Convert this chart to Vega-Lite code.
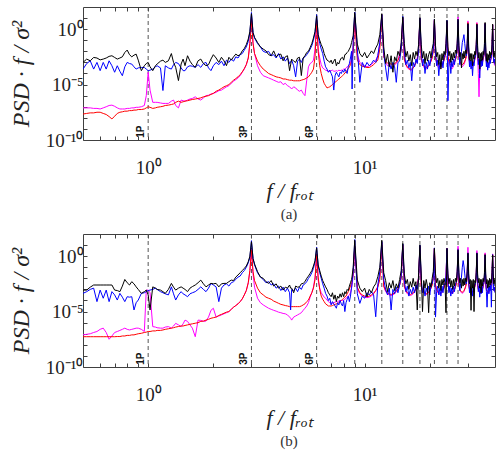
{
"$schema": "https://vega.github.io/schema/vega-lite/v6.json",
"background": "white",
"padding": {"left": 8, "top": 6, "right": 5, "bottom": 5},
"spacing": 10,
"config": {
  "view": {"stroke": "#404040", "strokeWidth": 1},
  "axis": {"domain": false, "grid": false, "tickColor": "#404040", "tickWidth": 1, "labelFont": "Liberation Serif", "labelFontSize": 19, "labelColor": "#222", "titleFont": "Liberation Serif", "titleFontStyle": "italic", "titleFontWeight": "normal", "titleColor": "#222", "labelFlush": false, "labelOverlap": false},
  "title": {"font": "Liberation Serif", "fontSize": 15, "fontWeight": "normal", "color": "#333"}
},
"datasets": {
"h": [{"f":1},{"f":3},{"f":6},{"f":9},{"f":12},{"f":15},{"f":18},{"f":21},{"f":24},{"f":27}],
"lab": [{"f":1,"t":"1P"},{"f":3,"t":"3P"},{"f":6,"t":"6P"}],
"a": [
{"f":0.5,"k":1e-3,"b":2.5e-4,"m":7.9e-8,"r":2.2e-8},
{"f":0.52,"k":2e-3,"b":7.9e-4,"m":7.9e-8,"r":2.5e-8},
{"f":0.54,"k":1.4e-3,"b":1.4e-3,"m":7.9e-8,"r":2.8e-8},
{"f":0.56,"k":2.8e-3,"b":2.5e-4,"m":7.1e-8,"r":2.8e-8},
{"f":0.58,"k":2.5e-3,"b":1e-3,"m":7.1e-8,"r":3.2e-8},
{"f":0.6,"k":1.7e-3,"b":1.8e-4,"m":6.3e-8,"r":3.2e-8},
{"f":0.62,"k":2e-3,"b":1e-3,"m":7.9e-8,"r":2.5e-8},
{"f":0.64,"k":2.5e-3,"b":2.5e-4,"m":1e-7,"r":2e-8},
{"f":0.66,"k":3.5e-3,"b":1.4e-3,"m":1.3e-7,"r":1.3e-8},
{"f":0.68,"k":4e-3,"b":5e-4,"m":1.4e-7,"r":7.9e-9},
{"f":0.7,"k":2.8e-3,"b":1.3e-4,"m":1.1e-7,"r":1.4e-8},
{"f":0.72,"k":2e-3,"b":5e-4,"m":7.9e-8,"r":2.5e-8},
{"f":0.74,"k":2.5e-3,"b":1.6e-4,"m":6.3e-8,"r":3.2e-8},
{"f":0.76,"k":3.2e-3,"b":6.3e-5,"m":6.3e-8,"r":3.5e-8},
{"f":0.78,"k":7.9e-3,"b":4e-4,"m":6.3e-8,"r":4e-8},
{"f":0.8,"k":0.013,"b":1e-3,"m":7.1e-8,"r":4e-8},
{"f":0.82,"k":5e-3,"b":7.9e-4,"m":7.1e-8,"r":4.5e-8},
{"f":0.84,"k":3.2e-3,"b":7.1e-4,"m":7.9e-8,"r":4.5e-8},
{"f":0.86,"k":4.5e-3,"b":4e-4,"m":7.9e-8,"r":5e-8},
{"f":0.88,"k":5.6e-3,"b":2.5e-4,"m":8.9e-8,"r":5e-8},
{"f":0.9,"k":1.6e-3,"b":3.2e-4,"m":8.9e-8,"r":5.6e-8},
{"f":0.93,"k":1.8e-4,"b":3.5e-4,"m":1e-7,"r":5.6e-8},
{"f":0.96,"k":5e-4,"b":3.5e-4,"m":1.3e-7,"r":6.3e-8},
{"f":0.98,"k":7.9e-4,"b":2.5e-4,"m":1e-6,"r":7.9e-8},
{"f":1.0,"k":1e-3,"b":1.8e-4,"m":1.3e-4,"r":1e-7},
{"f":1.02,"k":4e-4,"b":2e-4,"m":3.2e-6,"r":8.9e-8},
{"f":1.05,"k":1.8e-4,"b":2.5e-4,"m":2.5e-7,"r":7.1e-8},
{"f":1.08,"k":5e-4,"b":4e-4,"m":2.5e-7,"r":7.9e-8},
{"f":1.1,"k":7.2e-4,"b":5e-4,"m":2.5e-7,"r":8.9e-8},
{"f":1.14,"k":1.3e-3,"b":3.2e-4,"m":2.2e-7,"r":1e-7},
{"f":1.17,"k":1.6e-3,"b":2.9e-6,"m":2e-7,"r":1.1e-7},
{"f":1.2,"k":1e-3,"b":5e-4,"m":2e-7,"r":1.3e-7},
{"f":1.24,"k":1.4e-3,"b":3.2e-4,"m":2e-7,"r":1.4e-7},
{"f":1.28,"k":6.3e-3,"b":2.5e-4,"m":3.2e-7,"r":1.6e-7},
{"f":1.31,"k":1e-3,"b":6.3e-4,"m":4e-7,"r":1.8e-7},
{"f":1.34,"k":3.6e-4,"b":1e-3,"m":1.3e-7,"r":2.5e-7},
{"f":1.38,"k":2.3e-5,"b":7.9e-4,"m":7.9e-8,"r":3.2e-7},
{"f":1.42,"k":7.2e-4,"b":3.2e-4,"m":4e-7,"r":2.5e-7},
{"f":1.45,"k":2e-3,"b":1.8e-4,"m":3.5e-7,"r":2.8e-7},
{"f":1.48,"k":5.1e-4,"b":1.8e-4,"m":3.2e-7,"r":3.2e-7},
{"f":1.52,"k":4e-3,"b":4e-4,"m":4e-7,"r":3.5e-7},
{"f":1.56,"k":1.3e-3,"b":5e-4,"m":5e-7,"r":4e-7},
{"f":1.6,"k":6.3e-4,"b":4.5e-4,"m":5.6e-7,"r":4.5e-7},
{"f":1.65,"k":3.6e-4,"b":3.6e-4,"m":7.9e-7,"r":5e-7},
{"f":1.7,"k":1.4e-3,"b":6.3e-4,"m":5e-7,"r":5.6e-7},
{"f":1.75,"k":2e-3,"b":3.6e-4,"m":4e-7,"r":6.3e-7},
{"f":1.8,"k":7.9e-4,"b":7.9e-4,"m":6.3e-7,"r":7.9e-7},
{"f":1.85,"k":5.1e-4,"b":1e-3,"m":1e-6,"r":8.9e-7},
{"f":1.9,"k":6.3e-4,"b":3.2e-4,"m":1.1e-6,"r":1e-6},
{"f":1.95,"k":2e-3,"b":1.8e-4,"m":1.4e-6,"r":1.3e-6},
{"f":2.0,"k":5e-3,"b":5e-4,"m":1.6e-6,"r":1.6e-6},
{"f":2.06,"k":2.5e-3,"b":1e-3,"m":2e-6,"r":2.5e-6},
{"f":2.12,"k":1e-3,"b":6.3e-4,"m":2.8e-6,"r":3.2e-6},
{"f":2.18,"k":2.9e-3,"b":1.3e-3,"m":3.2e-6,"r":4.5e-6},
{"f":2.24,"k":1.4e-3,"b":5e-4,"m":4.5e-6,"r":6.3e-6},
{"f":2.3,"k":5.1e-4,"b":1.6e-3,"m":6.3e-6,"r":7.9e-6},
{"f":2.36,"k":2.9e-3,"b":1e-3,"m":7.9e-6,"r":1e-5},
{"f":2.42,"k":1.6e-3,"b":2e-3,"m":1.3e-5,"r":1.6e-5},
{"f":2.48,"k":3.2e-3,"b":1.3e-3,"m":2e-5,"r":2.5e-5},
{"f":2.54,"k":5.6e-3,"b":3.2e-3,"m":2.8e-5,"r":3.5e-5},
{"f":2.6,"k":4e-3,"b":2.5e-3,"m":4e-5,"r":5e-5},
{"f":2.66,"k":5e-3,"b":5e-3,"m":6.3e-5,"r":7.9e-5},
{"f":2.72,"k":0.011,"b":6.3e-3,"m":1.3e-4,"r":1.4e-4},
{"f":2.78,"k":0.018,"b":0.013,"m":2.5e-4,"r":2.8e-4},
{"f":2.84,"k":0.04,"b":0.025,"m":6.3e-4,"r":6.3e-4},
{"f":2.9,"k":0.13,"b":0.079,"m":2.5e-3,"r":2.5e-3},
{"f":2.95,"k":0.63,"b":0.5,"m":0.05,"r":0.05},
{"f":3.0,"k":25,"b":32,"m":12.6,"r":7.9},
{"f":3.05,"k":0.5,"b":0.5,"m":0.063,"r":0.05},
{"f":3.1,"k":0.18,"b":0.16,"m":6.3e-3,"r":6.3e-3},
{"f":3.2,"k":0.063,"b":0.05,"m":5e-4,"r":1.3e-3},
{"f":3.3,"k":0.025,"b":0.025,"m":1.3e-4,"r":5e-4},
{"f":3.4,"k":0.016,"b":0.01,"m":6.3e-5,"r":2.5e-4},
{"f":3.5,"k":0.011,"b":7.9e-3,"m":5e-5,"r":1.6e-4},
{"f":3.6,"k":5e-3,"b":0.01,"m":4e-5,"r":1e-4},
{"f":3.7,"k":4e-3,"b":4e-3,"m":3.2e-5,"r":7.9e-5},
{"f":3.8,"k":0.011,"b":5e-3,"m":2.5e-5,"r":6.3e-5},
{"f":3.9,"k":3.2e-3,"b":2.5e-3,"m":2e-5,"r":5e-5},
{"f":4.0,"k":5e-3,"b":6.3e-3,"m":1.6e-5,"r":4.5e-5},
{"f":4.1,"k":5.6e-3,"b":2e-3,"m":1.8e-5,"r":4e-5},
{"f":4.2,"k":1.4e-3,"b":3.2e-3,"m":1e-5,"r":3.2e-5},
{"f":4.3,"k":3.2e-3,"b":1.3e-3,"m":1.3e-5,"r":3.2e-5},
{"f":4.4,"k":4e-3,"b":2.5e-3,"m":7.9e-6,"r":2.8e-5},
{"f":4.5,"k":1.8e-4,"b":7.9e-4,"m":6.3e-6,"r":2.5e-5},
{"f":4.6,"k":2e-3,"b":1.6e-3,"m":4e-6,"r":2.5e-5},
{"f":4.7,"k":1.3e-3,"b":5e-4,"m":6.3e-6,"r":2.2e-5},
{"f":4.8,"k":1e-3,"b":5e-5,"m":5e-6,"r":2.2e-5},
{"f":4.9,"k":2.5e-3,"b":1.3e-3,"m":3.2e-6,"r":2.2e-5},
{"f":5.0,"k":2.9e-3,"b":2e-3,"m":2.5e-6,"r":2.2e-5},
{"f":5.1,"k":6.5e-5,"b":1e-3,"m":3.2e-6,"r":2.5e-5},
{"f":5.2,"k":2.5e-3,"b":2.5e-3,"m":1.6e-6,"r":2.8e-5},
{"f":5.3,"k":4e-3,"b":3.2e-3,"m":1e-6,"r":3.2e-5},
{"f":5.4,"k":7.9e-3,"b":5e-3,"m":2.5e-5,"r":4e-5},
{"f":5.5,"k":0.01,"b":7.9e-3,"m":4e-4,"r":5e-5},
{"f":5.6,"k":0.022,"b":0.016,"m":7.9e-4,"r":7.9e-5},
{"f":5.7,"k":0.05,"b":0.032,"m":1e-3,"r":1.3e-4},
{"f":5.8,"k":0.16,"b":0.1,"m":1.6e-3,"r":2.5e-4},
{"f":5.9,"k":0.63,"b":0.5,"m":0.016,"r":3.2e-3},
{"f":6.0,"k":16,"b":20,"m":6.3,"r":6.3},
{"f":6.1,"k":0.32,"b":0.25,"m":0.016,"r":0.01},
{"f":6.2,"k":0.1,"b":0.05,"m":2.5e-3,"r":5e-4},
{"f":6.3,"k":0.04,"b":0.016,"m":6.3e-4,"r":1e-4},
{"f":6.4,"k":0.02,"b":6.3e-3,"m":3.2e-4,"r":3.2e-5},
{"f":6.5,"k":6.3e-3,"b":1.3e-3,"m":2.5e-4,"r":1.3e-5},
{"f":6.6,"k":2.9e-3,"b":4e-4,"m":2e-4,"r":7.9e-6},
{"f":6.7,"k":1.6e-3,"b":2.5e-4,"m":1.8e-4,"r":5e-6},
{"f":6.8,"k":1.4e-3,"b":1.3e-4,"m":1.6e-4,"r":5.6e-6},
{"f":6.9,"k":1e-3,"b":2e-4,"m":1.6e-4,"r":6.3e-6},
{"f":7.0,"k":1.6e-3,"b":1e-4,"m":1.8e-4,"r":7.9e-6},
{"f":7.1,"k":7.2e-4,"b":5e-5,"m":2e-4,"r":1e-5},
{"f":7.2,"k":1.3e-3,"b":3.2e-6,"m":1.6e-4,"r":1.3e-5},
{"f":7.3,"k":2e-3,"b":6.3e-5,"m":1.6e-4,"r":1.6e-5},
{"f":7.4,"k":5e-4,"b":1.3e-4,"m":1.8e-4,"r":2e-5},
{"f":7.5,"k":1e-3,"b":7.9e-5,"m":1.6e-4,"r":2.5e-5},
{"f":7.6,"k":7.2e-4,"b":5e-5,"m":2e-4,"r":3.2e-5},
{"f":7.7,"k":1.6e-3,"b":1.3e-4,"m":1.8e-4,"r":4e-5},
{"f":7.8,"k":2.5e-3,"b":1e-4,"m":2e-4,"r":5e-5},
{"f":7.9,"k":2.9e-3,"b":2e-4,"m":2e-4,"r":6.3e-5},
{"f":8.0,"k":1.6e-3,"b":1.3e-4,"m":2.5e-4,"r":7.9e-5},
{"f":8.1,"k":5e-3,"b":2.5e-4,"m":2.5e-4,"r":1.1e-4},
{"f":8.2,"k":5.6e-3,"b":1.6e-4,"m":3.2e-4,"r":1.4e-4},
{"f":8.3,"k":7.9e-3,"b":1e-4,"m":4e-4,"r":2e-4},
{"f":8.4,"k":0.01,"b":4e-4,"m":5e-4,"r":2.8e-4},
{"f":8.5,"k":0.016,"b":7.9e-4,"m":6.3e-4,"r":4e-4},
{"f":8.6,"k":0.025,"b":2.5e-3,"m":1e-3,"r":6.3e-4},
{"f":8.7,"k":0.063,"b":0.01,"m":2e-3,"r":1.3e-3},
{"f":8.75,"k":0.1,"b":4e-6,"m":3.2e-3,"r":2e-3},
{"f":8.85,"k":0.25,"b":0.1,"m":0.016,"r":0.01},
{"f":9.0,"k":32,"b":35,"m":12.6,"r":10},
{"f":9.25,"k":0.045,"b":0.016,"m":5e-3,"r":1.6e-3},
{"f":9.5,"k":6.3e-3,"b":1.6e-5,"m":1e-3,"r":6.3e-4},
{"f":9.75,"k":3.2e-3,"b":1e-3,"m":6.3e-4,"r":4.5e-4},
{"f":10.0,"k":7.9e-3,"b":3.5e-4,"m":5e-4,"r":4e-4},
{"f":10.25,"k":2.5e-3,"b":1e-3,"m":4e-4,"r":3.5e-4},
{"f":10.5,"k":5e-3,"b":5e-4,"m":5e-4,"r":3.5e-4},
{"f":10.75,"k":0.011,"b":7.9e-4,"m":6.3e-4,"r":4.5e-4},
{"f":11.0,"k":6.3e-3,"b":1.6e-3,"m":1e-3,"r":6.3e-4},
{"f":11.25,"k":0.02,"b":1e-3,"m":1.6e-3,"r":1e-3},
{"f":11.5,"k":0.045,"b":4e-3,"m":4e-3,"r":1.6e-3},
{"f":11.75,"k":0.32,"b":0.063,"m":0.05,"r":0.016},
{"f":12.0,"k":25,"b":20,"m":20,"r":10},
{"f":12.25,"k":0.025,"b":6.3e-3,"m":4e-3,"r":3.2e-3},
{"f":12.5,"k":7.9e-4,"b":3.2e-4,"m":1e-3,"r":1.3e-3},
{"f":12.75,"k":5.6e-3,"b":2.2e-5,"m":5e-4,"r":8.9e-4},
{"f":13.0,"k":4e-4,"b":1e-3,"m":6.3e-4,"r":7.9e-4},
{"f":13.25,"k":4e-3,"b":2.5e-4,"m":3.2e-4,"r":7.1e-4},
{"f":13.5,"k":1.3e-4,"b":1e-3,"m":5e-4,"r":7.1e-4},
{"f":13.75,"k":3.2e-3,"b":4e-4,"m":6.3e-4,"r":7.9e-4},
{"f":14.0,"k":1.3e-3,"b":1.6e-5,"m":7.9e-4,"r":1e-3},
{"f":14.25,"k":0.01,"b":1e-3,"m":1.6e-3,"r":1.6e-3},
{"f":14.5,"k":4e-3,"b":1.3e-3,"m":6.3e-3,"r":3.2e-3},
{"f":14.75,"k":0.063,"b":0.016,"m":0.025,"r":0.013},
{"f":15.0,"k":12.6,"b":14,"m":10,"r":10},
{"f":15.25,"k":0.05,"b":0.01,"m":2.5e-3,"r":2e-3},
{"f":15.5,"k":3.2e-3,"b":6.3e-4,"m":6.3e-4,"r":6.3e-4},
{"f":15.75,"k":0.01,"b":1.6e-3,"m":3.2e-4,"r":4e-4},
{"f":16.0,"k":1.3e-3,"b":3.2e-4,"m":2.5e-4,"r":2.8e-4},
{"f":16.25,"k":5e-3,"b":1e-3,"m":2e-4,"r":2.5e-4},
{"f":16.5,"k":5e-4,"b":2.2e-5,"m":2e-4,"r":2.5e-4},
{"f":16.75,"k":7.9e-3,"b":1e-3,"m":3.2e-4,"r":3.2e-4},
{"f":17.0,"k":2e-3,"b":4e-4,"m":5e-4,"r":5e-4},
{"f":17.25,"k":0.01,"b":2e-3,"m":1e-3,"r":1e-3},
{"f":17.5,"k":4e-3,"b":7.9e-4,"m":2.5e-3,"r":2e-3},
{"f":17.75,"k":0.04,"b":0.013,"m":0.02,"r":0.01},
{"f":18.0,"k":11,"b":10,"m":10,"r":7.9},
{"f":18.25,"k":0.04,"b":0.016,"m":2.5e-3,"r":2.5e-3},
{"f":18.5,"k":2.5e-3,"b":5e-4,"m":7.9e-4,"r":7.9e-4},
{"f":18.75,"k":0.01,"b":2e-3,"m":4e-4,"r":5e-4},
{"f":19.0,"k":7.9e-4,"b":1e-4,"m":2.5e-4,"r":4e-4},
{"f":19.25,"k":6.3e-3,"b":1e-3,"m":2.5e-4,"r":3.5e-4},
{"f":19.5,"k":1.3e-3,"b":2.5e-4,"m":3.2e-4,"r":4e-4},
{"f":19.75,"k":5e-3,"b":1.6e-3,"m":5e-4,"r":5e-4},
{"f":20.0,"k":0.01,"b":5e-4,"m":7.9e-4,"r":7.9e-4},
{"f":20.25,"k":2.5e-3,"b":2.5e-3,"m":1.3e-3,"r":1.3e-3},
{"f":20.5,"k":0.016,"b":4e-3,"m":3.2e-3,"r":2.5e-3},
{"f":20.75,"k":0.05,"b":0.016,"m":0.016,"r":0.01},
{"f":21.0,"k":7.9,"b":7.9,"m":6.3,"r":6.3},
{"f":21.25,"k":0.032,"b":7.9e-3,"m":3.2e-3,"r":2.5e-3},
{"f":21.5,"k":3.2e-3,"b":5e-4,"m":1e-3,"r":1e-3},
{"f":21.75,"k":7.9e-3,"b":1.6e-3,"m":5e-4,"r":6.3e-4},
{"f":22.0,"k":6.3e-4,"b":6.3e-5,"m":3.2e-4,"r":5e-4},
{"f":22.25,"k":5e-3,"b":1e-3,"m":2.5e-4,"r":4.5e-4},
{"f":22.5,"k":2.5e-4,"b":4e-4,"m":3.2e-4,"r":5e-4},
{"f":22.75,"k":6.3e-3,"b":1.3e-3,"m":5e-4,"r":6.3e-4},
{"f":23.0,"k":1.6e-3,"b":3.2e-4,"m":7.9e-4,"r":1e-3},
{"f":23.25,"k":0.01,"b":2.5e-3,"m":1.6e-3,"r":1.6e-3},
{"f":23.5,"k":5e-3,"b":5e-3,"m":4e-3,"r":3.2e-3},
{"f":23.75,"k":0.05,"b":0.02,"m":0.02,"r":0.01},
{"f":24.0,"k":6.3,"b":6.3,"m":5,"r":5},
{"f":24.25,"k":0.025,"b":3.5e-7,"m":4e-3,"r":3.2e-3},
{"f":24.5,"k":4e-3,"b":1e-3,"m":1e-3,"r":1.3e-3},
{"f":24.75,"k":0.01,"b":2e-3,"m":5e-4,"r":7.9e-4},
{"f":25.0,"k":1e-3,"b":1e-4,"m":3.2e-4,"r":6.3e-4},
{"f":25.25,"k":6.3e-3,"b":1.3e-3,"m":2.5e-4,"r":5.6e-4},
{"f":25.5,"k":1.6e-3,"b":4e-4,"m":3.2e-4,"r":6.3e-4},
{"f":25.75,"k":7.9e-3,"b":2e-3,"m":5e-4,"r":7.9e-4},
{"f":26.0,"k":2.5e-3,"b":6.3e-4,"m":1e-3,"r":1.1e-3},
{"f":26.25,"k":0.013,"b":3.2e-3,"m":1.6e-3,"r":1.8e-3},
{"f":26.5,"k":6.3e-3,"b":4e-3,"m":4e-3,"r":3.2e-3},
{"f":26.75,"k":0.05,"b":0.016,"m":0.02,"r":0.01},
{"f":27.0,"k":7.9,"b":7.1,"m":12.6,"r":5},
{"f":27.25,"k":0.032,"b":0.01,"m":4e-3,"r":3.2e-3},
{"f":27.5,"k":3.2e-3,"b":6.3e-4,"m":1e-3,"r":1.3e-3},
{"f":27.75,"k":7.9e-3,"b":2.5e-3,"m":6.3e-4,"r":8.9e-4},
{"f":28.0,"k":3.2e-4,"b":0.01,"m":5e-4,"r":7.1e-4},
{"f":28.25,"k":6.3e-3,"b":0.063,"m":4e-4,"r":6.3e-4},
{"f":28.5,"k":2e-3,"b":0.13,"m":5e-4,"r":7.1e-4},
{"f":28.75,"k":0.01,"b":0.32,"m":6.3e-4,"r":8.9e-4},
{"f":29.0,"k":2.5e-3,"b":0.05,"m":1e-3,"r":1.3e-3},
{"f":29.25,"k":0.013,"b":0.01,"m":2e-3,"r":2e-3},
{"f":29.5,"k":6.3e-3,"b":4e-3,"m":4e-3,"r":3.5e-3},
{"f":29.75,"k":0.05,"b":0.016,"m":0.016,"r":0.01},
{"f":30.0,"k":3.2,"b":2.8,"m":5.6,"r":4},
{"f":30.25,"k":0.025,"b":7.9e-3,"m":3.2e-3,"r":3.2e-3},
{"f":30.5,"k":1.6e-3,"b":4e-4,"m":1e-3,"r":1.3e-3},
{"f":30.75,"k":6.3e-3,"b":1.6e-3,"m":5e-4,"r":8.9e-4},
{"f":31.0,"k":1.3e-3,"b":2.5e-4,"m":4e-4,"r":7.1e-4},
{"f":31.25,"k":6.3e-3,"b":1.3e-3,"m":3.2e-4,"r":6.3e-4},
{"f":31.5,"k":5e-4,"b":6.3e-5,"m":4e-4,"r":7.1e-4},
{"f":31.75,"k":5e-3,"b":1e-3,"m":6.3e-4,"r":8.9e-4},
{"f":32.0,"k":2e-3,"b":5e-4,"m":1e-3,"r":1.3e-3},
{"f":32.25,"k":0.01,"b":2.5e-3,"m":1.6e-3,"r":2e-3},
{"f":32.5,"k":5e-3,"b":3.2e-3,"m":4e-3,"r":3.5e-3},
{"f":32.75,"k":0.04,"b":0.013,"m":0.016,"r":0.01},
{"f":33.0,"k":2.8,"b":2.5,"m":4,"r":3.2},
{"f":33.25,"k":0.032,"b":0.01,"m":4e-3,"r":3.2e-3},
{"f":33.5,"k":2.5e-3,"b":6.3e-4,"m":1e-4,"r":1.3e-3},
{"f":33.75,"k":7.9e-3,"b":2e-3,"m":7.9e-7,"r":8.9e-4},
{"f":34.0,"k":2.5e-4,"b":4e-5,"m":1.6e-4,"r":7.9e-4},
{"f":34.25,"k":6.3e-3,"b":1.6e-3,"m":4e-4,"r":7.1e-4},
{"f":34.5,"k":1.3e-3,"b":4e-4,"m":5e-4,"r":7.9e-4},
{"f":34.75,"k":7.9e-3,"b":2e-3,"m":6.3e-4,"r":1e-3},
{"f":35.0,"k":1.6e-3,"b":5e-4,"m":1e-3,"r":1.3e-3},
{"f":35.25,"k":0.01,"b":3.2e-3,"m":1.6e-3,"r":2e-3},
{"f":35.5,"k":5e-3,"b":4e-3,"m":4e-3,"r":3.5e-3},
{"f":35.75,"k":0.05,"b":0.016,"m":0.016,"r":0.01},
{"f":36.0,"k":4,"b":3.2,"m":3.2,"r":3.2},
{"f":36.25,"k":0.025,"b":7.9e-3,"m":3.2e-3,"r":3.2e-3},
{"f":36.5,"k":1.3e-3,"b":4e-4,"m":1e-3,"r":1.3e-3},
{"f":36.75,"k":6.3e-3,"b":1.6e-3,"m":6.3e-4,"r":8.9e-4},
{"f":37.0,"k":1e-3,"b":2e-4,"m":5e-4,"r":7.9e-4},
{"f":37.25,"k":5e-3,"b":1e-3,"m":4e-4,"r":7.1e-4},
{"f":37.5,"k":1.6e-3,"b":3.2e-4,"m":5e-4,"r":7.9e-4},
{"f":37.75,"k":0.01,"b":2.5e-3,"m":7.9e-4,"r":1e-3},
{"f":38.0,"k":2.5e-3,"b":7.9e-4,"m":1e-3,"r":1.3e-3},
{"f":38.25,"k":7.9e-3,"b":2e-3,"m":1.6e-3,"r":2e-3},
{"f":38.5,"k":5e-3,"b":3.2e-3,"m":4e-3,"r":3.5e-3},
{"f":38.75,"k":0.04,"b":0.013,"m":0.016,"r":0.01},
{"f":39.0,"k":2.8,"b":2.5,"m":2.5,"r":2.5},
{"f":39.25,"k":0.032,"b":0.01,"m":5e-3,"r":4e-3},
{"f":39.5,"k":3.2e-3,"b":1e-3,"m":1.3e-3,"r":1.3e-3},
{"f":39.75,"k":7.9e-3,"b":2e-3,"m":6.3e-4,"r":8.9e-4},
{"f":40.0,"k":2.5e-3,"b":6.3e-4,"m":5e-4,"r":7.9e-4}
],
"b": [
{"f":0.5,"k":8.7e-4,"b":4.4e-4,"m":7.9e-8,"r":5.4e-8},
{"f":0.52,"k":8.7e-4,"b":6.3e-4,"m":8.9e-8,"r":5.4e-8},
{"f":0.54,"k":1.6e-3,"b":1e-3,"m":1e-7,"r":5.4e-8},
{"f":0.56,"k":2.5e-3,"b":1.3e-3,"m":1.3e-7,"r":5.4e-8},
{"f":0.58,"k":2.5e-3,"b":7.9e-5,"m":1.6e-7,"r":5.4e-8},
{"f":0.6,"k":2.5e-3,"b":8.7e-4,"m":2.5e-7,"r":5.4e-8},
{"f":0.62,"k":2.5e-3,"b":1.6e-4,"m":3.2e-7,"r":5.4e-8},
{"f":0.64,"k":2.5e-3,"b":8.7e-4,"m":1.3e-7,"r":5.4e-8},
{"f":0.66,"k":2.5e-3,"b":7.9e-5,"m":3.2e-8,"r":5.4e-8},
{"f":0.68,"k":2.5e-3,"b":6.3e-4,"m":6.3e-8,"r":5.4e-8},
{"f":0.7,"k":8.7e-4,"b":3.2e-4,"m":1.3e-7,"r":5.4e-8},
{"f":0.72,"k":7.9e-4,"b":1.1e-4,"m":1.6e-7,"r":5.6e-8},
{"f":0.74,"k":6.3e-4,"b":4.4e-4,"m":2e-7,"r":5.6e-8},
{"f":0.76,"k":2e-3,"b":2e-4,"m":2.5e-7,"r":6.3e-8},
{"f":0.78,"k":7.9e-3,"b":7.9e-5,"m":3.2e-7,"r":6.3e-8},
{"f":0.8,"k":4e-3,"b":2.2e-4,"m":2.5e-7,"r":7.1e-8},
{"f":0.82,"k":2.5e-3,"b":2e-4,"m":2.2e-7,"r":7.1e-8},
{"f":0.84,"k":5e-3,"b":2.2e-4,"m":2.5e-7,"r":7.9e-8},
{"f":0.86,"k":3.2e-3,"b":1.4e-5,"m":2.8e-7,"r":7.9e-8},
{"f":0.88,"k":1.7e-3,"b":6.3e-5,"m":3.2e-7,"r":8.9e-8},
{"f":0.9,"k":1e-3,"b":1.1e-4,"m":3.2e-7,"r":1e-7},
{"f":0.93,"k":4.4e-4,"b":4.4e-4,"m":2.5e-7,"r":1.1e-7},
{"f":0.96,"k":6.3e-4,"b":5e-4,"m":1.6e-7,"r":1.3e-7},
{"f":0.98,"k":8.7e-4,"b":6.3e-4,"m":8.7e-4,"r":1.4e-7},
{"f":1.0,"k":3.2e-4,"b":7.9e-4,"m":8.7e-4,"r":1.6e-7},
{"f":1.02,"k":1.4e-5,"b":8.7e-4,"m":5e-4,"r":1.6e-7},
{"f":1.05,"k":1.7e-3,"b":1e-3,"m":4.4e-7,"r":1.8e-7},
{"f":1.08,"k":1.3e-3,"b":1.3e-3,"m":4e-7,"r":1.8e-7},
{"f":1.1,"k":1e-3,"b":1e-3,"m":3.5e-7,"r":2e-7},
{"f":1.14,"k":8.7e-4,"b":6.3e-4,"m":3.2e-7,"r":2e-7},
{"f":1.17,"k":6.3e-4,"b":5e-4,"m":3.2e-7,"r":2.2e-7},
{"f":1.2,"k":4.4e-4,"b":4e-4,"m":4e-7,"r":2.5e-7},
{"f":1.24,"k":1e-3,"b":3.2e-4,"m":4.4e-7,"r":2.8e-7},
{"f":1.28,"k":3.5e-3,"b":1.7e-3,"m":3.2e-7,"r":3.2e-7},
{"f":1.31,"k":1.6e-3,"b":4e-4,"m":5e-7,"r":3.5e-7},
{"f":1.34,"k":8.7e-4,"b":1.1e-4,"m":8.7e-7,"r":4e-7},
{"f":1.38,"k":1.3e-3,"b":3.2e-4,"m":6.3e-7,"r":4.5e-7},
{"f":1.42,"k":1.7e-3,"b":6.3e-4,"m":4.4e-7,"r":5e-7},
{"f":1.45,"k":1.3e-3,"b":4e-4,"m":7.9e-7,"r":5e-7},
{"f":1.48,"k":1e-3,"b":3.2e-4,"m":1.7e-6,"r":5.6e-7},
{"f":1.52,"k":6.3e-4,"b":2.2e-4,"m":1.3e-6,"r":6.3e-7},
{"f":1.56,"k":1.3e-3,"b":4e-4,"m":6.3e-7,"r":7.1e-7},
{"f":1.6,"k":1.8e-3,"b":5e-4,"m":3.2e-7,"r":7.9e-7},
{"f":1.65,"k":2.5e-3,"b":6.3e-4,"m":5.4e-8,"r":8.9e-7},
{"f":1.7,"k":4e-3,"b":1e-3,"m":1.7e-6,"r":1e-6},
{"f":1.75,"k":6.9e-3,"b":1.7e-3,"m":1.6e-6,"r":1.3e-6},
{"f":1.8,"k":3.2e-3,"b":1e-3,"m":1.3e-6,"r":1.4e-6},
{"f":1.85,"k":1.7e-3,"b":6.3e-4,"m":1.4e-6,"r":1.7e-6},
{"f":1.9,"k":2.5e-3,"b":1.3e-3,"m":3.2e-6,"r":2e-6},
{"f":1.95,"k":3.5e-3,"b":3.5e-3,"m":1.3e-5,"r":2.5e-6},
{"f":2.0,"k":3.2e-3,"b":2.5e-3,"m":2e-5,"r":2.8e-6},
{"f":2.06,"k":3.5e-3,"b":1.7e-3,"m":3.2e-6,"r":3.2e-6},
{"f":2.12,"k":1.7e-3,"b":7.9e-5,"m":4e-6,"r":4.5e-6},
{"f":2.18,"k":3.2e-3,"b":1.3e-3,"m":5e-6,"r":5.6e-6},
{"f":2.24,"k":3.5e-3,"b":2.5e-3,"m":6.3e-6,"r":7.1e-6},
{"f":2.3,"k":3.5e-3,"b":3.2e-3,"m":7.9e-6,"r":8.9e-6},
{"f":2.36,"k":5e-3,"b":2e-3,"m":1e-5,"r":1e-5},
{"f":2.42,"k":6.9e-3,"b":4e-3,"m":1.6e-5,"r":1.6e-5},
{"f":2.48,"k":6.3e-3,"b":5e-3,"m":2.5e-5,"r":2.5e-5},
{"f":2.54,"k":0.013,"b":7.9e-3,"m":3.5e-5,"r":3.5e-5},
{"f":2.6,"k":0.02,"b":0.013,"m":5e-5,"r":5e-5},
{"f":2.66,"k":0.032,"b":0.016,"m":7.9e-5,"r":7.9e-5},
{"f":2.72,"k":0.05,"b":0.032,"m":1.4e-4,"r":1.4e-4},
{"f":2.78,"k":0.079,"b":0.05,"m":3.2e-4,"r":3.2e-4},
{"f":2.84,"k":0.13,"b":0.1,"m":7.9e-4,"r":7.9e-4},
{"f":2.9,"k":0.32,"b":0.25,"m":4e-3,"r":4e-3},
{"f":2.95,"k":1,"b":0.79,"m":0.05,"r":0.05},
{"f":3.0,"k":20,"b":25,"m":4,"r":3.5},
{"f":3.05,"k":0.63,"b":0.63,"m":0.025,"r":0.04},
{"f":3.1,"k":0.2,"b":0.16,"m":1.6e-3,"r":6.3e-3},
{"f":3.2,"k":0.04,"b":0.032,"m":1.6e-4,"r":1.3e-3},
{"f":3.3,"k":0.013,"b":0.013,"m":6.3e-5,"r":5e-4},
{"f":3.4,"k":0.01,"b":7.9e-3,"m":4e-5,"r":3.2e-4},
{"f":3.5,"k":5e-3,"b":4e-3,"m":2.8e-5,"r":2e-4},
{"f":3.6,"k":3.5e-3,"b":5e-3,"m":2e-5,"r":1.6e-4},
{"f":3.7,"k":6.3e-3,"b":2.5e-3,"m":1.6e-5,"r":1.3e-4},
{"f":3.8,"k":2e-3,"b":3.2e-3,"m":1.3e-5,"r":8.9e-5},
{"f":3.9,"k":3.2e-3,"b":1.3e-3,"m":1.1e-5,"r":7.1e-5},
{"f":4.0,"k":1.3e-3,"b":2e-3,"m":8.9e-6,"r":5.6e-5},
{"f":4.1,"k":2e-3,"b":7.9e-4,"m":7.9e-6,"r":4.5e-5},
{"f":4.2,"k":8.7e-4,"b":1.6e-3,"m":6.8e-6,"r":4e-5},
{"f":4.3,"k":1.6e-3,"b":6.3e-4,"m":6.3e-6,"r":3.5e-5},
{"f":4.4,"k":1.3e-3,"b":1.3e-3,"m":5e-6,"r":3.2e-5},
{"f":4.5,"k":2.5e-3,"b":5e-4,"m":3.2e-6,"r":2.8e-5},
{"f":4.55,"k":1.3e-3,"b":1.4e-5,"m":2.5e-6,"r":2.8e-5},
{"f":4.6,"k":1.3e-3,"b":1e-3,"m":1.7e-6,"r":2.8e-5},
{"f":4.7,"k":5e-4,"b":7.9e-4,"m":3.2e-6,"r":2.8e-5},
{"f":4.8,"k":2e-3,"b":1.3e-3,"m":4e-6,"r":2.8e-5},
{"f":4.9,"k":1.6e-3,"b":6.3e-4,"m":5e-6,"r":2.8e-5},
{"f":5.0,"k":1.7e-3,"b":1.6e-3,"m":6.3e-6,"r":2.8e-5},
{"f":5.1,"k":3.2e-3,"b":1e-3,"m":7.9e-6,"r":3.2e-5},
{"f":5.2,"k":3.5e-3,"b":2.5e-3,"m":1.3e-5,"r":4e-5},
{"f":5.3,"k":5e-3,"b":3.2e-3,"m":2e-5,"r":5e-5},
{"f":5.4,"k":0.01,"b":5e-3,"m":3.2e-5,"r":7.9e-5},
{"f":5.5,"k":0.016,"b":0.01,"m":6.3e-5,"r":1.1e-4},
{"f":5.6,"k":0.028,"b":0.016,"m":2e-4,"r":2.5e-4},
{"f":5.7,"k":0.05,"b":0.032,"m":5e-4,"r":5e-4},
{"f":5.8,"k":0.13,"b":0.079,"m":1.6e-3,"r":1.3e-3},
{"f":5.9,"k":0.4,"b":0.32,"m":0.013,"r":7.9e-3},
{"f":6.0,"k":5.6,"b":6.3,"m":0.87,"r":1.6},
{"f":6.1,"k":0.16,"b":0.13,"m":6.3e-3,"r":0.013},
{"f":6.2,"k":0.05,"b":0.032,"m":1.3e-3,"r":1e-3},
{"f":6.3,"k":0.016,"b":0.01,"m":5e-4,"r":2.5e-4},
{"f":6.4,"k":6.3e-3,"b":3.2e-3,"m":3.2e-4,"r":1.3e-4},
{"f":6.5,"k":3.2e-3,"b":1.3e-3,"m":2e-4,"r":7.9e-5},
{"f":6.6,"k":1.7e-3,"b":4.4e-4,"m":1.6e-4,"r":5e-5},
{"f":6.7,"k":1e-3,"b":2.5e-4,"m":1.1e-4,"r":4e-5},
{"f":6.8,"k":5e-4,"b":1e-4,"m":7.9e-5,"r":3.2e-5},
{"f":6.9,"k":3.2e-4,"b":1.6e-4,"m":6.3e-5,"r":3.2e-5},
{"f":7.0,"k":2.2e-4,"b":4e-5,"m":5.6e-5,"r":3.2e-5},
{"f":7.1,"k":5e-4,"b":7.9e-5,"m":5.5e-5,"r":3.5e-5},
{"f":7.2,"k":1.3e-4,"b":5e-5,"m":6.3e-5,"r":4e-5},
{"f":7.3,"k":3.2e-4,"b":3.2e-5,"m":7.1e-5,"r":4.5e-5},
{"f":7.4,"k":7.9e-5,"b":2e-5,"m":7.9e-5,"r":5e-5},
{"f":7.5,"k":2.5e-4,"b":6.3e-5,"m":7.9e-5,"r":5.6e-5},
{"f":7.6,"k":1.6e-4,"b":4e-5,"m":8.9e-5,"r":6.3e-5},
{"f":7.7,"k":4e-4,"b":1e-4,"m":1e-4,"r":7.9e-5},
{"f":7.8,"k":2e-4,"b":5e-5,"m":1e-4,"r":1e-4},
{"f":7.9,"k":5e-4,"b":3.2e-5,"m":1e-4,"r":1.3e-4},
{"f":8.0,"k":2.2e-4,"b":1e-4,"m":1.1e-4,"r":1.6e-4},
{"f":8.1,"k":6.3e-4,"b":1e-5,"m":1.3e-4,"r":2e-4},
{"f":8.2,"k":4e-4,"b":6.3e-5,"m":1.6e-4,"r":2.5e-4},
{"f":8.3,"k":1e-3,"b":1.3e-4,"m":2e-4,"r":4e-4},
{"f":8.4,"k":7.9e-4,"b":2.5e-4,"m":2.5e-4,"r":6.3e-4},
{"f":8.5,"k":2e-3,"b":7.9e-5,"m":3.2e-4,"r":1.1e-3},
{"f":8.6,"k":4e-3,"b":2.5e-4,"m":5e-4,"r":2e-3},
{"f":8.7,"k":7.9e-3,"b":1.6e-3,"m":1.3e-3,"r":4e-3},
{"f":8.75,"k":0.016,"b":4e-3,"m":2.5e-3,"r":6.3e-3},
{"f":8.85,"k":0.1,"b":0.04,"m":0.016,"r":0.032},
{"f":9.0,"k":27.5,"b":32,"m":6.3,"r":7.9},
{"f":9.25,"k":6.9e-3,"b":4e-4,"m":1.3e-3,"r":1.6e-3},
{"f":9.5,"k":1.3e-3,"b":5.5e-5,"m":4e-4,"r":5e-4},
{"f":9.75,"k":6.3e-4,"b":2.5e-4,"m":2.5e-4,"r":3.2e-4},
{"f":10.0,"k":1.3e-3,"b":1.6e-4,"m":2e-4,"r":2.5e-4},
{"f":10.25,"k":2.2e-4,"b":5e-4,"m":1.8e-4,"r":2.2e-4},
{"f":10.5,"k":1e-3,"b":3.2e-4,"m":2e-4,"r":2.5e-4},
{"f":10.75,"k":5e-4,"b":6.3e-4,"m":2.5e-4,"r":3.2e-4},
{"f":11.0,"k":1.7e-3,"b":3.2e-4,"m":4e-4,"r":4.5e-4},
{"f":11.25,"k":3.2e-3,"b":3.4e-6,"m":7.9e-4,"r":7.9e-4},
{"f":11.5,"k":0.014,"b":2.5e-3,"m":2e-3,"r":1.6e-3},
{"f":11.75,"k":0.1,"b":0.04,"m":0.016,"r":7.9e-3},
{"f":12.0,"k":27.5,"b":20,"m":16,"r":10},
{"f":12.25,"k":0.032,"b":7.9e-3,"m":2e-3,"r":2e-3},
{"f":12.5,"k":6.3e-3,"b":1e-3,"m":6.3e-4,"r":7.9e-4},
{"f":12.75,"k":6.3e-4,"b":3.2e-4,"m":4e-4,"r":5e-4},
{"f":13.0,"k":4e-3,"b":1.3e-3,"m":3.2e-4,"r":4e-4},
{"f":13.25,"k":1.3e-3,"b":1.4e-5,"m":2.8e-4,"r":3.5e-4},
{"f":13.5,"k":6.3e-3,"b":1e-3,"m":3.2e-4,"r":4e-4},
{"f":13.75,"k":7.9e-4,"b":4e-4,"m":4e-4,"r":5e-4},
{"f":14.0,"k":3.2e-3,"b":1.6e-3,"m":6.3e-4,"r":7.1e-4},
{"f":14.25,"k":1.3e-3,"b":5e-4,"m":1e-3,"r":1.1e-3},
{"f":14.5,"k":7.9e-3,"b":2.5e-3,"m":2.5e-3,"r":2.5e-3},
{"f":14.75,"k":0.05,"b":0.016,"m":0.013,"r":0.01},
{"f":15.0,"k":13.8,"b":12.6,"m":10,"r":10},
{"f":15.25,"k":0.025,"b":6.3e-3,"m":2e-3,"r":2e-3},
{"f":15.5,"k":3.2e-3,"b":6.3e-4,"m":6.3e-4,"r":7.9e-4},
{"f":15.75,"k":7.9e-3,"b":2e-3,"m":4e-4,"r":5e-4},
{"f":16.0,"k":1e-3,"b":2.5e-4,"m":3.2e-4,"r":4e-4},
{"f":16.25,"k":5e-3,"b":1e-3,"m":2.8e-4,"r":3.5e-4},
{"f":16.5,"k":1.6e-3,"b":4e-4,"m":3.2e-4,"r":4e-4},
{"f":16.75,"k":0.01,"b":1.6e-3,"m":4e-4,"r":5e-4},
{"f":17.0,"k":2e-3,"b":5e-4,"m":6.3e-4,"r":7.1e-4},
{"f":17.25,"k":5e-3,"b":2.5e-3,"m":1e-3,"r":1.1e-3},
{"f":17.5,"k":1.4e-5,"b":1e-3,"m":2.5e-3,"r":2.5e-3},
{"f":17.75,"k":0.032,"b":0.01,"m":0.013,"r":0.01},
{"f":18.0,"k":10,"b":10,"m":7.9,"r":7.9},
{"f":18.25,"k":0.025,"b":7.9e-3,"m":2.5e-3,"r":2e-3},
{"f":18.5,"k":1e-5,"b":5e-4,"m":7.9e-4,"r":7.9e-4},
{"f":18.75,"k":6.3e-3,"b":1.6e-3,"m":5e-4,"r":5.6e-4},
{"f":19.0,"k":1.3e-3,"b":2.5e-4,"m":4e-4,"r":4.5e-4},
{"f":19.25,"k":7.9e-3,"b":1.3e-3,"m":3.5e-4,"r":4e-4},
{"f":19.5,"k":2e-3,"b":5e-4,"m":4e-4,"r":4.5e-4},
{"f":19.75,"k":7.9e-6,"b":2e-3,"m":5e-4,"r":5.6e-4},
{"f":20.0,"k":4e-3,"b":3.2e-4,"m":7.9e-4,"r":7.9e-4},
{"f":20.25,"k":1.6e-3,"b":2.5e-3,"m":1.3e-3,"r":1.3e-3},
{"f":20.5,"k":0.01,"b":3.2e-3,"m":3.2e-3,"r":2.5e-3},
{"f":20.75,"k":0.04,"b":0.013,"m":0.013,"r":0.01},
{"f":21.0,"k":5,"b":5.6,"m":5,"r":5},
{"f":21.25,"k":0.025,"b":3.2e-6,"m":2.5e-3,"r":2.5e-3},
{"f":21.5,"k":4e-3,"b":6.3e-4,"m":7.9e-4,"r":1e-3},
{"f":21.75,"k":0.01,"b":2e-3,"m":5e-4,"r":6.3e-4},
{"f":22.0,"k":1.3e-3,"b":3.2e-4,"m":4e-4,"r":5e-4},
{"f":22.25,"k":6.3e-3,"b":1.3e-3,"m":3.5e-4,"r":4.5e-4},
{"f":22.5,"k":7.9e-4,"b":2.5e-4,"m":4e-4,"r":5e-4},
{"f":22.75,"k":7.9e-3,"b":2e-3,"m":5e-4,"r":6.3e-4},
{"f":23.0,"k":2.5e-3,"b":5e-4,"m":7.9e-4,"r":8.9e-4},
{"f":23.25,"k":0.01,"b":3.2e-3,"m":1.3e-3,"r":1.4e-3},
{"f":23.5,"k":4e-3,"b":2.5e-3,"m":3.2e-3,"r":2.8e-3},
{"f":23.75,"k":7.9e-6,"b":0.016,"m":0.013,"r":0.01},
{"f":24.0,"k":5,"b":5,"m":5,"r":5},
{"f":24.25,"k":0.025,"b":6.3e-3,"m":3.2e-3,"r":2.5e-3},
{"f":24.5,"k":3.2e-3,"b":5e-4,"m":1e-3,"r":1e-3},
{"f":24.75,"k":0.01,"b":2e-3,"m":6.3e-4,"r":7.1e-4},
{"f":25.0,"k":1.6e-3,"b":2.5e-4,"m":5e-4,"r":5.6e-4},
{"f":25.25,"k":6.3e-3,"b":1.3e-3,"m":4e-4,"r":5e-4},
{"f":25.5,"k":1e-3,"b":4e-4,"m":4.5e-4,"r":5.6e-4},
{"f":25.75,"k":7.9e-3,"b":2e-3,"m":6.3e-4,"r":7.1e-4},
{"f":26.0,"k":2e-3,"b":6.3e-4,"m":1e-3,"r":1e-3},
{"f":26.25,"k":0.01,"b":3.2e-3,"m":1.6e-3,"r":1.6e-3},
{"f":26.5,"k":5e-3,"b":4e-3,"m":4e-3,"r":3.2e-3},
{"f":26.75,"k":0.04,"b":0.02,"m":0.02,"r":0.01},
{"f":27.0,"k":3.5,"b":4,"m":7.9,"r":4},
{"f":27.25,"k":0.032,"b":0.01,"m":3.2e-3,"r":2.5e-3},
{"f":27.5,"k":4e-3,"b":7.9e-4,"m":1e-3,"r":1e-3},
{"f":27.75,"k":0.01,"b":3.2e-3,"m":6.3e-4,"r":7.1e-4},
{"f":28.0,"k":1.3e-3,"b":0.013,"m":5e-4,"r":6.3e-4},
{"f":28.25,"k":7.9e-3,"b":0.1,"m":4.5e-4,"r":5.6e-4},
{"f":28.5,"k":2e-3,"b":0.4,"m":5e-4,"r":6.3e-4},
{"f":28.75,"k":0.01,"b":0.13,"m":6.3e-4,"r":7.9e-4},
{"f":29.0,"k":2.5e-3,"b":0.025,"m":1e-3,"r":1.1e-3},
{"f":29.25,"k":0.01,"b":5e-3,"m":1.6e-3,"r":1.8e-3},
{"f":29.5,"k":5e-3,"b":3.2e-3,"m":4e-3,"r":3.2e-3},
{"f":29.75,"k":0.04,"b":0.016,"m":0.025,"r":0.01},
{"f":30.0,"k":1.8,"b":2,"m":6.3,"r":2},
{"f":30.25,"k":0.025,"b":6.3e-3,"m":3.2e-3,"r":2.5e-3},
{"f":30.5,"k":3.2e-3,"b":5e-4,"m":1e-3,"r":1e-3},
{"f":30.75,"k":7.9e-3,"b":1.6e-3,"m":6.3e-4,"r":7.1e-4},
{"f":31.0,"k":1.3e-5,"b":3.2e-4,"m":5e-4,"r":6.3e-4},
{"f":31.25,"k":6.3e-3,"b":1.3e-3,"m":4.5e-4,"r":5.6e-4},
{"f":31.5,"k":1.3e-3,"b":2.5e-4,"m":5e-4,"r":6.3e-4},
{"f":31.75,"k":7.9e-3,"b":1.6e-3,"m":6.3e-4,"r":7.9e-4},
{"f":32.0,"k":1e-5,"b":6.3e-4,"m":1e-3,"r":1.1e-3},
{"f":32.25,"k":6.3e-3,"b":2.5e-3,"m":1.6e-3,"r":1.8e-3},
{"f":32.5,"k":4e-3,"b":3.2e-3,"m":4e-3,"r":3.2e-3},
{"f":32.75,"k":0.032,"b":0.013,"m":0.016,"r":0.01},
{"f":33.0,"k":1.8,"b":2,"m":3.2,"r":2},
{"f":33.25,"k":0.025,"b":7.9e-3,"m":3.2e-3,"r":2.5e-3},
{"f":33.5,"k":4e-3,"b":6.3e-4,"m":1e-3,"r":1e-3},
{"f":33.75,"k":0.01,"b":2e-3,"m":6.3e-4,"r":7.1e-4},
{"f":34.0,"k":1.3e-3,"b":2e-4,"m":5e-4,"r":6.3e-4},
{"f":34.25,"k":7.9e-3,"b":1.6e-3,"m":4.5e-4,"r":5.6e-4},
{"f":34.5,"k":5e-4,"b":4e-4,"m":5e-4,"r":6.3e-4},
{"f":34.75,"k":7.9e-3,"b":2e-3,"m":6.3e-4,"r":7.9e-4},
{"f":35.0,"k":2e-3,"b":5e-4,"m":1e-3,"r":1.1e-3},
{"f":35.25,"k":0.01,"b":3.2e-3,"m":1.6e-3,"r":1.8e-3},
{"f":35.5,"k":5e-3,"b":3.2e-3,"m":4e-3,"r":3.2e-3},
{"f":35.75,"k":0.032,"b":0.013,"m":0.016,"r":0.01},
{"f":36.0,"k":1.26,"b":1.4,"m":2,"r":1.6},
{"f":36.25,"k":0.025,"b":6.3e-3,"m":3.2e-3,"r":2.5e-3},
{"f":36.5,"k":3.2e-3,"b":6.3e-4,"m":1e-3,"r":1e-3},
{"f":36.75,"k":7.9e-3,"b":2.5e-5,"m":6.3e-4,"r":7.1e-4},
{"f":37.0,"k":1.3e-3,"b":6.3e-4,"m":5e-4,"r":6.3e-4},
{"f":37.25,"k":6.3e-3,"b":1.6e-3,"m":4.5e-4,"r":5.6e-4},
{"f":37.5,"k":1.6e-3,"b":4e-4,"m":5e-4,"r":6.3e-4},
{"f":37.75,"k":0.01,"b":2e-3,"m":6.3e-4,"r":7.9e-4},
{"f":38.0,"k":2.5e-3,"b":7.9e-4,"m":1e-3,"r":1.1e-3},
{"f":38.25,"k":7.9e-3,"b":2.5e-3,"m":1.6e-3,"r":1.8e-3},
{"f":38.5,"k":4e-3,"b":2.5e-5,"m":4e-3,"r":3.2e-3},
{"f":38.75,"k":0.032,"b":0.013,"m":0.016,"r":0.01},
{"f":39.0,"k":1.26,"b":1.4,"m":1.6,"r":1.4},
{"f":39.25,"k":0.025,"b":7.9e-3,"m":4e-3,"r":3.2e-3},
{"f":39.5,"k":3.2e-3,"b":7.9e-4,"m":1.3e-3,"r":1e-3},
{"f":39.75,"k":7.9e-3,"b":1.6e-3,"m":7.9e-4,"r":7.1e-4},
{"f":40.0,"k":2e-3,"b":5e-4,"m":6.3e-4,"r":6.3e-4}
]
},
"vconcat": [
{
  "width": 412, "height": 133,
  "title": {"text": "(a)", "orient": "bottom", "offset": 6},
  "resolve": {"axis": {"x": "independent", "y": "independent"}},
  "layer": [
    {"data": {"name": "h"}, "mark": {"type": "rule", "strokeDash": [4, 3], "color": "#555", "strokeWidth": 1},
     "encoding": {"x": {"field": "f", "type": "quantitative", "scale": {"type": "log", "domain": [0.5, 40], "nice": false},
       "axis": {"values": [0.6,0.7,0.8,0.9,1,2,3,4,5,6,7,8,9,10,20,30], "labelExpr": "datum.value == 1 ? '10⁰' : (datum.value == 10 ? '10¹' : '')", "tickSize": -4, "labelPadding": 22, "title": "f / fᵣₒₜ", "titleFontSize": 22, "titlePadding": 3}}}},
    {"data": {"name": "a"}, "mark": {"type": "line", "color": "#ff00ff", "strokeWidth": 1, "clip": true},
     "encoding": {"x": {"field": "f", "type": "quantitative", "scale": {"type": "log", "domain": [0.5, 40], "nice": false}, "axis": null},
       "y": {"field": "m", "type": "quantitative", "scale": {"type": "log", "domain": [1e-10, 100], "nice": false},
         "axis": {"values": [1e-10,1e-9,1e-8,1e-7,1e-6,1e-5,1e-4,1e-3,1e-2,1e-1,1,10], "labelExpr": "datum.value == 1 ? '10⁰' : (abs(datum.value - 1e-5) < 1e-7 ? '10⁻⁵' : (datum.value < 2e-10 ? '10⁻¹⁰' : ''))", "tickSize": -4, "labelPadding": 4, "title": "PSD · f / σ²", "titleFontSize": 24, "titlePadding": 12}}}},
    {"data": {"name": "a"}, "mark": {"type": "line", "color": "#ff0000", "strokeWidth": 1, "clip": true},
     "encoding": {"x": {"field": "f", "type": "quantitative", "axis": null}, "y": {"field": "r", "type": "quantitative", "axis": null}}},
    {"data": {"name": "a"}, "mark": {"type": "line", "color": "#0000ff", "strokeWidth": 1, "clip": true},
     "encoding": {"x": {"field": "f", "type": "quantitative", "axis": null}, "y": {"field": "b", "type": "quantitative", "axis": null}}},
    {"data": {"name": "a"}, "mark": {"type": "line", "color": "#000000", "strokeWidth": 1, "clip": true},
     "encoding": {"x": {"field": "f", "type": "quantitative", "axis": {"orient": "top", "values": [0.6,0.7,0.8,0.9,1,2,3,4,5,6,7,8,9,10,20,30], "labels": false, "title": null, "tickSize": -4}},
       "y": {"field": "k", "type": "quantitative", "axis": {"orient": "right", "values": [1e-9,1e-8,1e-7,1e-6,1e-5,1e-4,1e-3,1e-2,1e-1,1,10], "labels": false, "title": null, "tickSize": -4}}}},
    {"data": {"name": "lab"}, "mark": {"type": "text", "angle": 270, "align": "left", "baseline": "alphabetic", "dx": 0, "dy": -4, "font": "Liberation Sans", "fontSize": 10, "fontWeight": "bold", "color": "#111"},
     "encoding": {"x": {"field": "f", "type": "quantitative", "axis": null}, "y": {"datum": 1.6e-10, "type": "quantitative", "axis": null}, "text": {"field": "t"}}}
  ]
},
{
  "width": 412, "height": 133,
  "title": {"text": "(b)", "orient": "bottom", "offset": 6},
  "resolve": {"axis": {"x": "independent", "y": "independent"}},
  "layer": [
    {"data": {"name": "h"}, "mark": {"type": "rule", "strokeDash": [4, 3], "color": "#555", "strokeWidth": 1},
     "encoding": {"x": {"field": "f", "type": "quantitative", "scale": {"type": "log", "domain": [0.5, 40], "nice": false},
       "axis": {"values": [0.6,0.7,0.8,0.9,1,2,3,4,5,6,7,8,9,10,20,30], "labelExpr": "datum.value == 1 ? '10⁰' : (datum.value == 10 ? '10¹' : '')", "tickSize": -4, "labelPadding": 22, "title": "f / fᵣₒₜ", "titleFontSize": 22, "titlePadding": 3}}}},
    {"data": {"name": "b"}, "mark": {"type": "line", "color": "#ff00ff", "strokeWidth": 1, "clip": true},
     "encoding": {"x": {"field": "f", "type": "quantitative", "scale": {"type": "log", "domain": [0.5, 40], "nice": false}, "axis": null},
       "y": {"field": "m", "type": "quantitative", "scale": {"type": "log", "domain": [1e-10, 100], "nice": false},
         "axis": {"values": [1e-10,1e-9,1e-8,1e-7,1e-6,1e-5,1e-4,1e-3,1e-2,1e-1,1,10], "labelExpr": "datum.value == 1 ? '10⁰' : (abs(datum.value - 1e-5) < 1e-7 ? '10⁻⁵' : (datum.value < 2e-10 ? '10⁻¹⁰' : ''))", "tickSize": -4, "labelPadding": 4, "title": "PSD · f / σ²", "titleFontSize": 24, "titlePadding": 12}}}},
    {"data": {"name": "b"}, "mark": {"type": "line", "color": "#ff0000", "strokeWidth": 1, "clip": true},
     "encoding": {"x": {"field": "f", "type": "quantitative", "axis": null}, "y": {"field": "r", "type": "quantitative", "axis": null}}},
    {"data": {"name": "b"}, "mark": {"type": "line", "color": "#0000ff", "strokeWidth": 1, "clip": true},
     "encoding": {"x": {"field": "f", "type": "quantitative", "axis": null}, "y": {"field": "b", "type": "quantitative", "axis": null}}},
    {"data": {"name": "b"}, "mark": {"type": "line", "color": "#000000", "strokeWidth": 1, "clip": true},
     "encoding": {"x": {"field": "f", "type": "quantitative", "axis": {"orient": "top", "values": [0.6,0.7,0.8,0.9,1,2,3,4,5,6,7,8,9,10,20,30], "labels": false, "title": null, "tickSize": -4}},
       "y": {"field": "k", "type": "quantitative", "axis": {"orient": "right", "values": [1e-9,1e-8,1e-7,1e-6,1e-5,1e-4,1e-3,1e-2,1e-1,1,10], "labels": false, "title": null, "tickSize": -4}}}},
    {"data": {"name": "lab"}, "mark": {"type": "text", "angle": 270, "align": "left", "baseline": "alphabetic", "dx": 0, "dy": -4, "font": "Liberation Sans", "fontSize": 10, "fontWeight": "bold", "color": "#111"},
     "encoding": {"x": {"field": "f", "type": "quantitative", "axis": null}, "y": {"datum": 1.6e-10, "type": "quantitative", "axis": null}, "text": {"field": "t"}}}
  ]
}
]
}
